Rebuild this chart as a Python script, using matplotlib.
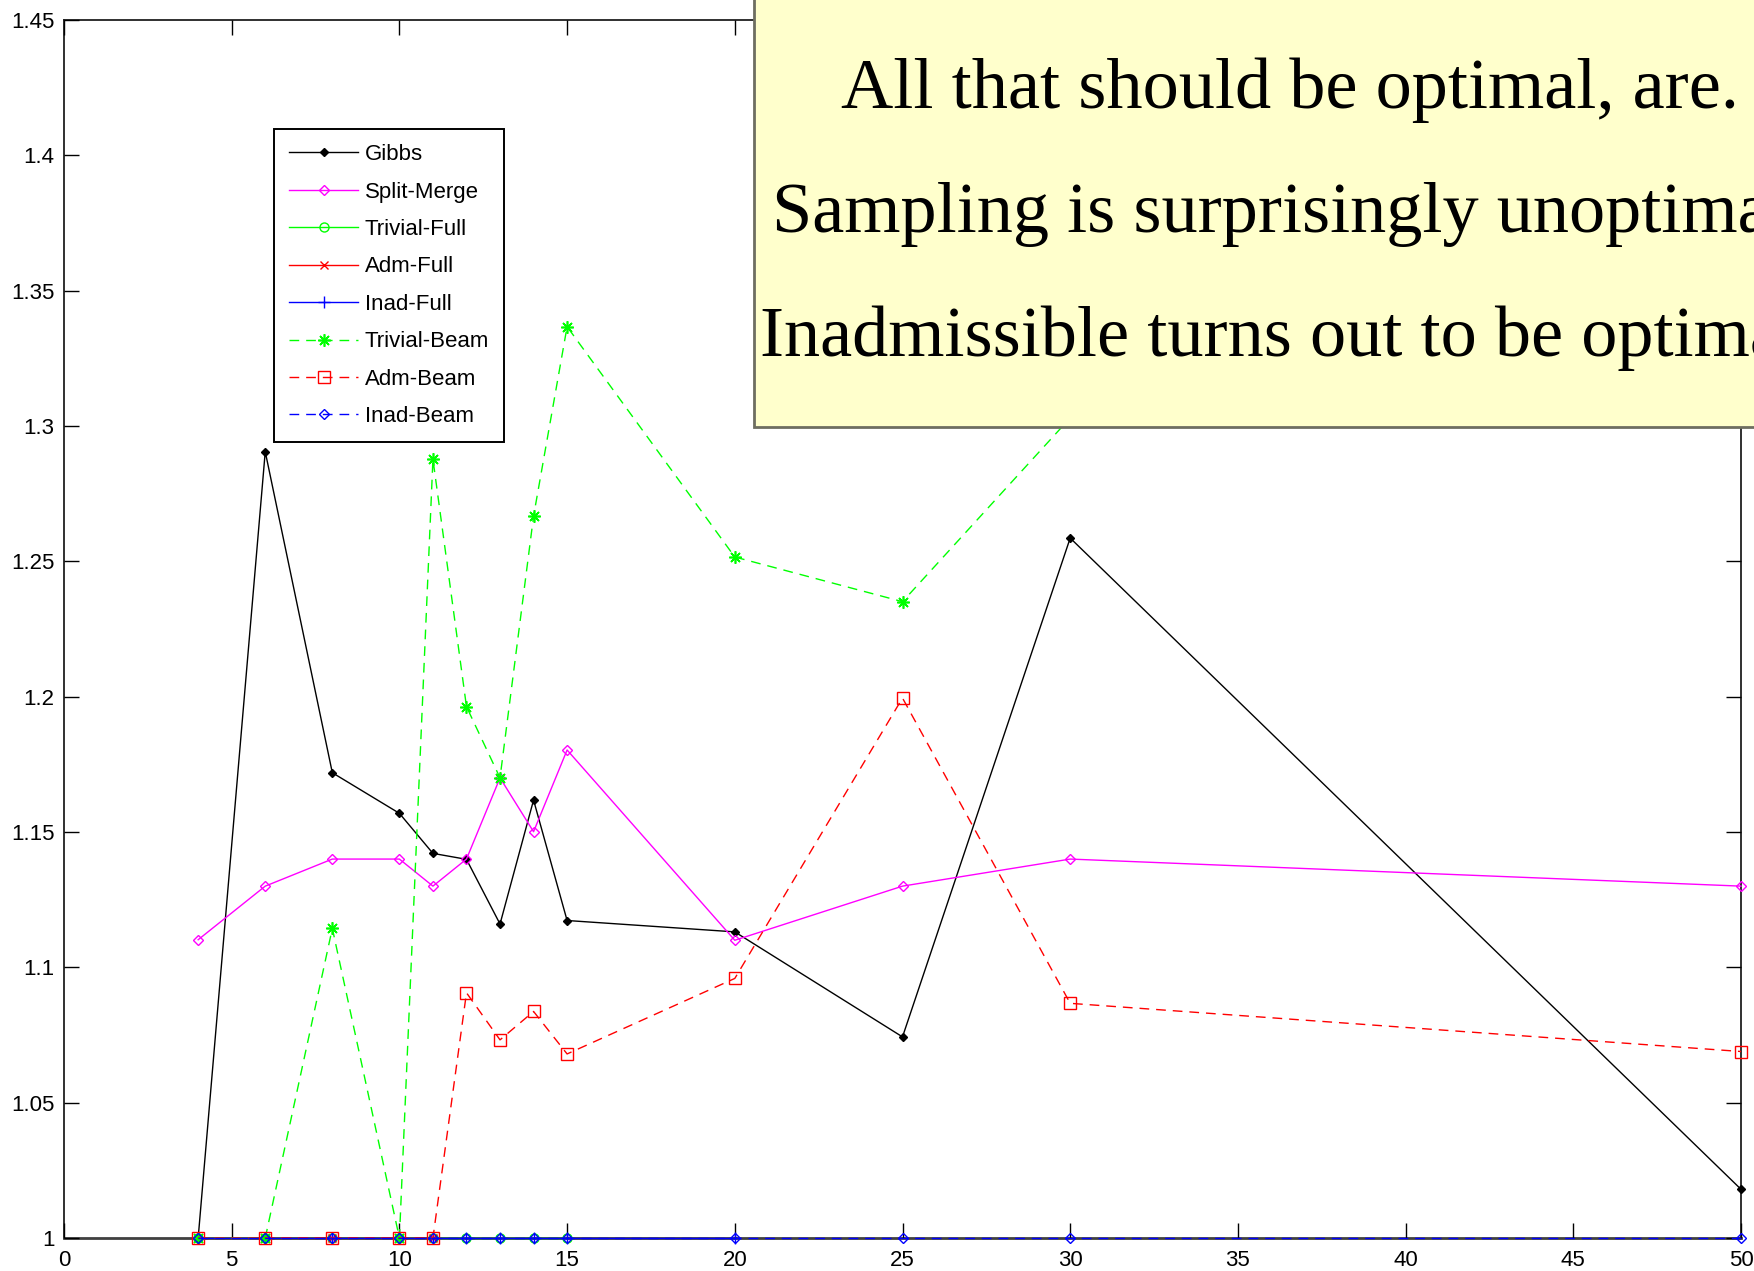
import matplotlib
matplotlib.use("Agg")
import matplotlib.pyplot as plt
from matplotlib.patches import Rectangle
import numpy as np

# ---- data ----
x_all = [4, 6, 8, 10, 11, 12, 13, 14, 15, 20, 25, 30, 50]
gibbs = [1.0, 1.2905, 1.1719, 1.1569, 1.1421, 1.1399, 1.116, 1.1618, 1.1173, 1.1131, 1.0743, 1.2586, 1.018]
split_merge = [1.1102, 1.130, 1.140, 1.140, 1.130, 1.140, 1.170, 1.1501, 1.1803, 1.110, 1.130, 1.140, 1.130]
x_trivial_full = [4, 6, 8, 10, 11, 12, 13, 14, 15]
trivial_full = [1.0, 1.0, 1.0, 1.0, 1.0, 1.0, 1.0, 1.0, 1.0]
x_adm_full = [4, 6, 8, 10, 11]
adm_full = [1.0, 1.0, 1.0, 1.0, 1.0]
x_inad_full = [4, 6, 8, 10, 11, 12, 13, 14, 15, 20]
inad_full = [1.0, 1.0, 1.0, 1.0, 1.0, 1.0, 1.0, 1.0, 1.0, 1.0]
trivial_beam = [1.0, 1.0, 1.1144, 1.0, 1.2877, 1.1963, 1.170, 1.2667, 1.3367, 1.2516, 1.2351, 1.303, 1.32]
adm_beam = [1.0, 1.0, 1.0, 1.0, 1.0, 1.0906, 1.0732, 1.0837, 1.068, 1.0959, 1.1995, 1.0867, 1.0689]
inad_beam = [1.0] * 13

xticks = [0, 5, 10, 15, 20, 25, 30, 35, 40, 45, 50]
yticks = [1.0, 1.05, 1.1, 1.15, 1.2, 1.25, 1.3, 1.35, 1.4, 1.45]
ytick_labels = ["1", "1.05", "1.1", "1.15", "1.2", "1.25", "1.3", "1.35", "1.4", "1.45"]

box_lines = ["All that should be optimal, are.",
             "Sampling is surprisingly unoptimal.",
             "Inadmissible turns out to be optimal."]

# ---- figure ----
W, H = 1754, 1271
fig = plt.figure(figsize=(W / 100, H / 100), dpi=100)
fig.patch.set_facecolor("white")
ax = fig.add_axes([64 / W, 1 - 1238 / H, (1741 - 64) / W, (1238 - 20) / H])

lw = 1.0
dash = (7, 5)
ax.plot(x_all, gibbs, color="black", lw=lw, marker="D", ms=4, mfc="black", mec="black",
        label="Gibbs", clip_on=False)
ax.plot(x_all, split_merge, color="#FF00FF", lw=lw, marker="D", ms=5.5, mfc="none",
        mec="#FF00FF", mew=1.0, label="Split-Merge", clip_on=False)
ax.plot(x_trivial_full, trivial_full, color="#00FF00", lw=lw, marker="o", ms=6.5, mfc="none",
        mec="#00FF00", mew=1.0, label="Trivial-Full", clip_on=False)
ax.plot(x_adm_full, adm_full, color="#FF0000", lw=lw, marker="x", ms=6, mew=1.0,
        label="Adm-Full", clip_on=False)
ax.plot(x_inad_full, inad_full, color="#0000FF", lw=lw, marker="+", ms=9, mew=1.0,
        label="Inad-Full", clip_on=False)
ax.plot(x_all, trivial_beam, color="#00FF00", lw=lw, dashes=dash, marker=(8, 2, 0), ms=9,
        mew=1.2, label="Trivial-Beam", clip_on=False)
ax.plot(x_all, adm_beam, color="#FF0000", lw=lw, dashes=dash, marker="s", ms=9, mfc="none",
        mec="#FF0000", mew=1.0, label="Adm-Beam", clip_on=False)
ax.plot(x_all, inad_beam, color="#0000FF", lw=lw, dashes=dash, marker="D", ms=5, mfc="none",
        mec="#0000FF", mew=1.0, label="Inad-Beam", clip_on=False)

ax.set_xlim(0, 50)
ax.set_ylim(1.0, 1.45)
ax.set_xticks(xticks)
ax.set_xticklabels([str(t) for t in xticks])
ax.set_yticks(yticks)
ax.set_yticklabels(ytick_labels)

tick_font = "Liberation Sans"
ax.tick_params(axis="both", direction="in", length=11, width=1.0, top=True, right=True,
               labelsize=16, colors="black")
ax.tick_params(axis="x", pad=9)
ax.tick_params(axis="y", pad=7)
for lab in ax.get_xticklabels() + ax.get_yticklabels():
    lab.set_fontfamily(tick_font)
for sp in ax.spines.values():
    sp.set_linewidth(1.3)
    sp.set_color("#202020")
    sp.set_zorder(1.5)
ax.spines["bottom"].set_linewidth(2.0)
ax.spines["bottom"].set_color("#404040")

leg = ax.legend(loc="upper left", bbox_to_anchor=(274 / W, 1 - 129 / H),
                bbox_transform=fig.transFigure, borderaxespad=0,
                prop={"family": "Liberation Sans", "size": 16},
                handlelength=3.1, handletextpad=0.3, labelspacing=0.74,
                borderpad=0.68, fancybox=False, framealpha=1, edgecolor="black",
                numpoints=1)
leg.get_frame().set_linewidth(1.4)

# ---- yellow annotation box ----
rect = Rectangle((754 / W, 1 - 427 / H), 1.2, 0.5, transform=fig.transFigure,
                 facecolor="#FFFFCC", edgecolor="#6E6E60", linewidth=2.0, zorder=10,
                 clip_on=False)
fig.add_artist(rect)
baselines = [108, 232, 356]
for line, yb in zip(box_lines, baselines):
    fig.text(1290 / W, 1 - yb / H, line, ha="center", va="baseline",
             fontsize=52, family="Liberation Serif", color="black", zorder=11)

fig.savefig("out.png", dpi=100)
